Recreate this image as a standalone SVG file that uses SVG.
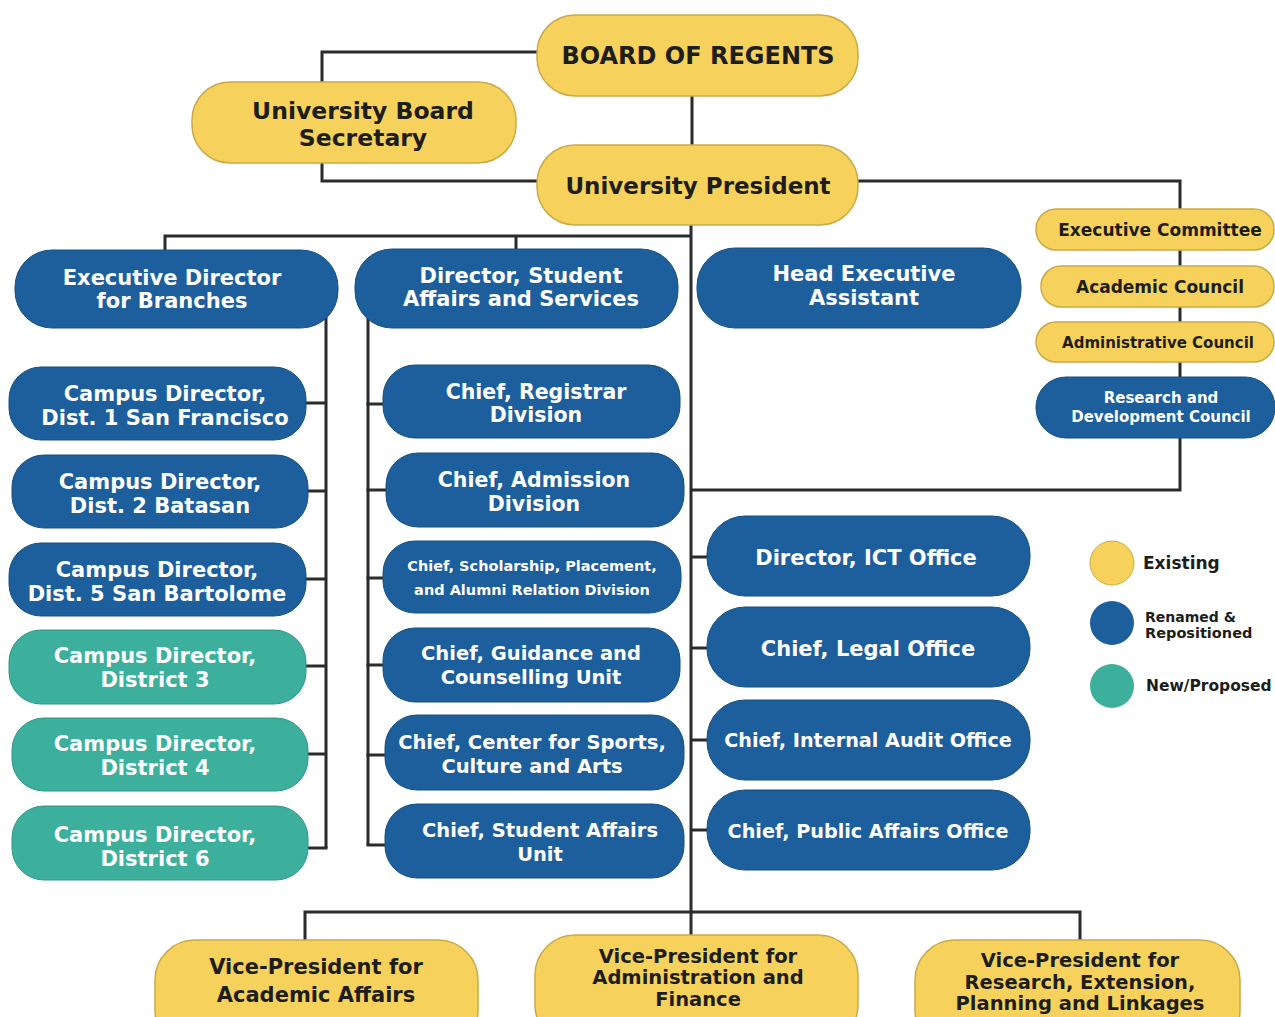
<svg xmlns="http://www.w3.org/2000/svg" width="1275" height="1017" viewBox="0 0 1275 1017">
<style>
.y{fill:#F6D25C;stroke:#C9AA45;stroke-width:1.5}
.b{fill:#1D5E9C;stroke:#17507F;stroke-width:1}
.g{fill:#3DAF9D;stroke:#2F9686;stroke-width:1}
text{font-family:"DejaVu Sans","Liberation Sans",sans-serif;font-weight:bold;text-anchor:middle}
.dk{fill:#1D1D1B}
.wt{fill:#FFFFFF}
.ln{fill:none;stroke:#2B2B2B;stroke-width:3}
.lg{text-anchor:start;fill:#1D1D1B}
</style>
<rect width="1275" height="1017" fill="#FFFFFF"/>
<g id="connectors" class="ln">
<polyline points="537,52 322,52 322,82"/>
<polyline points="322,163 322,181 537,181"/>
<line x1="692" y1="96" x2="692" y2="145"/>
<line x1="691" y1="225" x2="691" y2="912"/>
<polyline points="165,250 165,236 691,236"/>
<line x1="516" y1="236" x2="516" y2="249"/>
<polyline points="858,181 1180,181 1180,490 691,490"/>
<line x1="326" y1="315" x2="326" y2="848"/>
<line x1="306" y1="403" x2="326" y2="403"/>
<line x1="308" y1="491" x2="326" y2="491"/>
<line x1="306" y1="579" x2="326" y2="579"/>
<line x1="306" y1="666" x2="326" y2="666"/>
<line x1="308" y1="754" x2="326" y2="754"/>
<line x1="308" y1="848" x2="327.5" y2="848"/>
<line x1="368" y1="318" x2="368" y2="845"/>
<line x1="366.5" y1="404" x2="384" y2="404"/>
<line x1="366.5" y1="490" x2="387" y2="490"/>
<line x1="366.5" y1="578" x2="384" y2="578"/>
<line x1="366.5" y1="665" x2="384" y2="665"/>
<line x1="366.5" y1="755" x2="386" y2="755"/>
<line x1="366.5" y1="845" x2="386" y2="845"/>
<line x1="691" y1="557" x2="708" y2="557"/>
<line x1="691" y1="648" x2="708" y2="648"/>
<line x1="691" y1="740" x2="708" y2="740"/>
<line x1="691" y1="830" x2="708" y2="830"/>
<polyline points="305,940 305,912 1080,912 1080,940"/>
<line x1="691" y1="912" x2="691" y2="935"/>
</g>
<g id="board-of-regents"><rect class="y" x="537" y="15" width="321" height="81" rx="38"/><text class="dk" x="698" y="64" font-size="24">BOARD OF REGENTS</text></g>
<g id="university-board-secretary"><rect class="y" x="192" y="82" width="324" height="81" rx="38"/><text class="dk" x="363" y="118.5" font-size="23.5">University Board</text><text class="dk" x="363" y="145.5" font-size="23.5">Secretary</text></g>
<g id="university-president"><rect class="y" x="537" y="145" width="321" height="80" rx="38"/><text class="dk" x="698" y="193.5" font-size="23">University President</text></g>
<g id="executive-director-branches"><rect class="b" x="15" y="250" width="323" height="78" rx="37"/><text class="wt" x="172" y="284.7" font-size="21">Executive Director</text><text class="wt" x="172" y="307.7" font-size="21">for Branches</text></g>
<g id="director-student-affairs"><rect class="b" x="355" y="249" width="323" height="79" rx="37"/><text class="wt" x="521" y="282.7" font-size="21">Director, Student</text><text class="wt" x="521" y="305.7" font-size="21">Affairs and Services</text></g>
<g id="head-executive-assistant"><rect class="b" x="697" y="248" width="324" height="80" rx="38"/><text class="wt" x="864" y="280.7" font-size="21">Head Executive</text><text class="wt" x="864" y="304.7" font-size="21">Assistant</text></g>
<g id="campus-dist1"><rect class="b" x="9" y="367" width="297" height="73" rx="32"/><text class="wt" x="165" y="400.7" font-size="21">Campus Director,</text><text class="wt" x="165" y="424.7" font-size="21">Dist. 1 San Francisco</text></g>
<g id="campus-dist2"><rect class="b" x="12" y="455" width="296" height="73" rx="32"/><text class="wt" x="160" y="488.7" font-size="21">Campus Director,</text><text class="wt" x="160" y="512.7" font-size="21">Dist. 2 Batasan</text></g>
<g id="campus-dist5"><rect class="b" x="9" y="543" width="297" height="73" rx="32"/><text class="wt" x="157" y="576.7" font-size="21">Campus Director,</text><text class="wt" x="157" y="600.7" font-size="21">Dist. 5 San Bartolome</text></g>
<g id="campus-district3"><rect class="g" x="9" y="630" width="297" height="74" rx="32"/><text class="wt" x="155" y="662.7" font-size="21">Campus Director,</text><text class="wt" x="155" y="686.7" font-size="21">District 3</text></g>
<g id="campus-district4"><rect class="g" x="12" y="718" width="296" height="73" rx="32"/><text class="wt" x="155" y="750.7" font-size="21">Campus Director,</text><text class="wt" x="155" y="774.7" font-size="21">District 4</text></g>
<g id="campus-district6"><rect class="g" x="12" y="806" width="296" height="74" rx="32"/><text class="wt" x="155" y="841.7" font-size="21">Campus Director,</text><text class="wt" x="155" y="865.7" font-size="21">District 6</text></g>
<g id="chief-registrar"><rect class="b" x="383" y="365" width="297" height="73" rx="32"/><text class="wt" x="536" y="399.3" font-size="20.5">Chief, Registrar</text><text class="wt" x="536" y="422.3" font-size="20.5">Division</text></g>
<g id="chief-admission"><rect class="b" x="386" y="453" width="298" height="74" rx="32"/><text class="wt" x="534" y="487.3" font-size="20.5">Chief, Admission</text><text class="wt" x="534" y="511.3" font-size="20.5">Division</text></g>
<g id="chief-scholarship"><rect class="b" x="383" y="541" width="298" height="72" rx="32"/><text class="wt" x="532" y="571.3" font-size="14.5">Chief, Scholarship, Placement,</text><text class="wt" x="532" y="595.3" font-size="14.5">and Alumni Relation Division</text></g>
<g id="chief-guidance"><rect class="b" x="383" y="628" width="297" height="74" rx="32"/><text class="wt" x="531" y="660" font-size="19.5">Chief, Guidance and</text><text class="wt" x="531" y="684" font-size="19.5">Counselling Unit</text></g>
<g id="chief-sports"><rect class="b" x="385" y="715" width="299" height="75" rx="32"/><text class="wt" x="532" y="749" font-size="19.5">Chief, Center for Sports,</text><text class="wt" x="532" y="773" font-size="19.5">Culture and Arts</text></g>
<g id="chief-student-affairs-unit"><rect class="b" x="385" y="804" width="299" height="74" rx="32"/><text class="wt" x="540" y="837" font-size="19.5">Chief, Student Affairs</text><text class="wt" x="540" y="861" font-size="19.5">Unit</text></g>
<g id="director-ict"><rect class="b" x="707" y="516" width="323" height="80" rx="38"/><text class="wt" x="866" y="564.7" font-size="21">Director, ICT Office</text></g>
<g id="chief-legal"><rect class="b" x="707" y="607" width="323" height="80" rx="38"/><text class="wt" x="868" y="655.7" font-size="21">Chief, Legal Office</text></g>
<g id="chief-internal-audit"><rect class="b" x="707" y="700" width="323" height="80" rx="38"/><text class="wt" x="868" y="747" font-size="19.2">Chief, Internal Audit Office</text></g>
<g id="chief-public-affairs"><rect class="b" x="707" y="790" width="323" height="80" rx="38"/><text class="wt" x="868" y="838" font-size="19.2">Chief, Public Affairs Office</text></g>
<g id="executive-committee"><rect class="y" x="1036" y="209" width="238" height="41" rx="20"/><text class="dk" x="1160" y="236.2" font-size="17">Executive Committee</text></g>
<g id="academic-council"><rect class="y" x="1041" y="266" width="233" height="41" rx="20"/><text class="dk" x="1160" y="293.2" font-size="17">Academic Council</text></g>
<g id="administrative-council"><rect class="y" x="1036" y="322" width="238" height="40" rx="20"/><text class="dk" x="1158" y="347.5" font-size="15">Administrative Council</text></g>
<g id="research-development-council"><rect class="b" x="1036" y="377" width="239" height="61" rx="30"/><text class="wt" x="1161" y="402.5" font-size="15">Research  and</text><text class="wt" x="1161" y="421.5" font-size="15">Development Council</text></g>
<g id="legend">
<circle cx="1112" cy="563" r="22" fill="#F6D25C" stroke="#C9AA45" stroke-width="1"/>
<circle cx="1112" cy="623" r="22" fill="#1D5E9C"/>
<circle cx="1112" cy="686" r="22" fill="#3DAF9D"/>
<text class="lg" x="1143" y="569" font-size="17">Existing</text>
<text class="lg" x="1145" y="622" font-size="14">Renamed &amp;</text>
<text class="lg" x="1145" y="638" font-size="14.5">Repositioned</text>
<text class="lg" x="1146" y="691" font-size="15.5">New/Proposed</text>
</g>
<g id="vp-academic-affairs"><rect class="y" x="155" y="940" width="323" height="110" rx="40"/><text class="dk" x="316" y="973.7" font-size="21">Vice-President for</text><text class="dk" x="316" y="1001.7" font-size="21">Academic Affairs</text></g>
<g id="vp-administration-finance"><rect class="y" x="535" y="935" width="323" height="110" rx="40"/><text class="dk" x="698" y="963" font-size="19.5">Vice-President for</text><text class="dk" x="698" y="984" font-size="19.5">Administration and</text><text class="dk" x="698" y="1006" font-size="19.5">Finance</text></g>
<g id="vp-research-extension"><rect class="y" x="915" y="940" width="325" height="110" rx="40"/><text class="dk" x="1080" y="967" font-size="19.5">Vice-President for</text><text class="dk" x="1080" y="989" font-size="19.5">Research, Extension,</text><text class="dk" x="1080" y="1010" font-size="19.5">Planning and Linkages</text></g>
</svg>
